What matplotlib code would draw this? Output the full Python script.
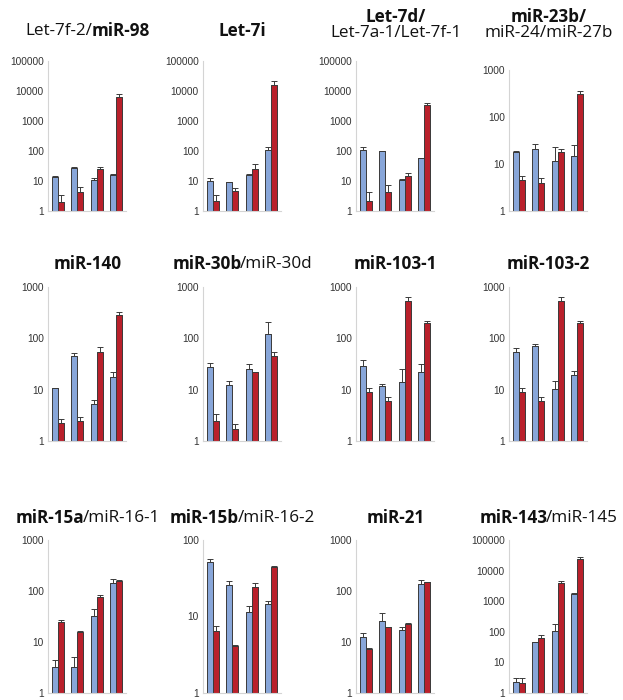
import matplotlib
matplotlib.use("Agg")
import matplotlib.pyplot as plt
import numpy as np

# --- data ---
titles = [
    [[("Let-7f-2/", "normal"), ("miR-98", "bold")]],
    [[("Let-7i", "bold")]],
    [[("Let-7d/", "bold")], [("Let-7a-1/Let-7f-1", "normal")]],
    [[("miR-23b/", "bold")], [("miR-24/miR-27b", "normal")]],
    [[("miR-140", "bold")]],
    [[("miR-30b", "bold"), ("/miR-30d", "normal")]],
    [[("miR-103-1", "bold")]],
    [[("miR-103-2", "bold")]],
    [[("miR-15a", "bold"), ("/miR-16-1", "normal")]],
    [[("miR-15b", "bold"), ("/miR-16-2", "normal")]],
    [[("miR-21", "bold")]],
    [[("miR-143", "bold"), ("/miR-145", "normal")]],
]
ymax = [1e5, 1e5, 1e5, 1e3, 1e3, 1e3, 1e3, 1e3, 1e3, 1e2, 1e3, 1e5]

blue = [
    [14, 27, 11, 16],
    [10, 9, 16, 110],
    [110, 100, 11, 57],
    [18, 21, 11.5, 14.5],
    [11, 46, 5.2, 18],
    [28, 12.5, 25, 120],
    [29, 12, 14, 22],
    [55, 70, 10.3, 19],
    [3.2, 3.2, 33, 145],
    [51, 26, 11.3, 14.5],
    [12.5, 26, 17, 140],
    [2.3, 45, 110, 1750],
]
blue_err = [
    [1, 2, 1.5, 1],
    [3, 0.5, 0.5, 25],
    [25, 3, 0.5, 2],
    [0.5, 6, 11, 11],
    [0, 5, 1.2, 4],
    [5, 2.5, 7, 90],
    [8, 1, 11, 9],
    [11, 6, 4.5, 4],
    [1.3, 1.8, 12, 25],
    [6, 3, 2.3, 1.5],
    [2.5, 11, 3, 25],
    [0.8, 2, 75, 50],
]
red = [
    [2, 4.2, 25, 6500],
    [2.1, 4.5, 26, 16000],
    [2.2, 4.3, 14.5, 3300],
    [4.5, 4.0, 18, 310],
    [2.2, 2.5, 55, 280],
    [2.4, 1.75, 22, 45],
    [9, 6, 530, 195],
    [9, 6, 540, 200],
    [25, 16, 75, 155],
    [6.4, 4.1, 24, 45],
    [7.2, 19.5, 23, 148],
    [2.2, 65, 3800, 24000],
]
red_err = [
    [1.3, 2.3, 5, 1500],
    [1.2, 1.3, 12, 6000],
    [2, 3.2, 4.5, 700],
    [1.0, 1.0, 2.5, 40],
    [0.5, 0.4, 14, 40],
    [1.0, 0.35, 0.5, 10],
    [1.8, 1.3, 110, 20],
    [1.8, 1.2, 100, 15],
    [1.5, 0.5, 8, 7],
    [1.2, 0.2, 3.5, 1.0],
    [0.3, 0.5, 0.8, 5],
    [1, 15, 700, 3500],
]

BLUE = "#88a6d9"
RED = "#b9202b"
EDGE = "#3a3a3a"

W, H = 623, 700
fig = plt.figure(figsize=(W / 100, H / 100), dpi=100)
renderer = fig.canvas.get_renderer()

col_left = [48, 203, 356, 509]
row_top = [61, 287, 540]
row_bot = [211, 441, 693]
title_y = [[31], [264], [518]]
title_y2 = [17, 33]
ax_w = 78


def draw_title(cx, cy, parts):
    texts = []
    for s, wgt in parts:
        t = fig.text(0, 1 - cy / H, s, fontsize=12.3, fontweight=wgt,
                     family="Open Sans", va="center", ha="left", color="#111111")
        texts.append(t)
    # ink widths, pulled together a little so the pieces read as one word
    widths = [t.get_window_extent(renderer).width - 1.2 for t in texts]
    x = cx - sum(widths) / 2
    for t, w in zip(texts, widths):
        t.set_x(x / W)
        x += w


for i in range(12):
    r, c = divmod(i, 4)
    top = row_top[r]
    if r == 0 and ymax[i] == 1e3:
        top = 70
    left = col_left[c]
    ax = fig.add_axes([left / W, 1 - row_bot[r] / H, ax_w / W, (row_bot[r] - top) / H])
    x = np.arange(4)
    bw = 0.3
    b = np.array(blue[i], dtype=float)
    rd = np.array(red[i], dtype=float)
    ax.bar(x - bw / 2, b, bw, color=BLUE, edgecolor=EDGE, linewidth=0.7, zorder=2)
    ax.bar(x + bw / 2, rd, bw, color=RED, edgecolor=EDGE, linewidth=0.7, zorder=2)
    ax.errorbar(x - bw / 2, b, yerr=[np.zeros(4), blue_err[i]], fmt="none",
                ecolor=EDGE, elinewidth=0.7, capsize=2, capthick=0.7, zorder=3)
    ax.errorbar(x + bw / 2, rd, yerr=[np.zeros(4), red_err[i]], fmt="none",
                ecolor=EDGE, elinewidth=0.7, capsize=2, capthick=0.7, zorder=3)
    ax.set_yscale("log")
    ax.set_ylim(1, ymax[i])
    ax.set_xlim(-0.5, 3.5)
    ticks = [10 ** k for k in range(int(round(np.log10(ymax[i]))) + 1)]
    ax.set_yticks(ticks)
    ax.set_yticklabels([str(t) for t in ticks])
    ax.minorticks_off()
    ax.set_xticks([])
    ax.tick_params(axis="y", length=0, pad=3, labelsize=7.3, labelcolor="#333333")
    for lab in ax.get_yticklabels():
        lab.set_family("Liberation Sans")
    for s in ["top", "right"]:
        ax.spines[s].set_visible(False)
    for s in ["left", "bottom"]:
        ax.spines[s].set_color("#d4d4d4")
        ax.spines[s].set_linewidth(0.8)
    ax.patch.set_visible(False)

    cx = left + ax_w / 2
    lines = titles[i]
    if len(lines) == 1:
        draw_title(cx, title_y[r][0], lines[0])
    else:
        for ln, yy in zip(lines, title_y2):
            draw_title(cx, yy, ln)

fig.savefig("out.png", dpi=100)
